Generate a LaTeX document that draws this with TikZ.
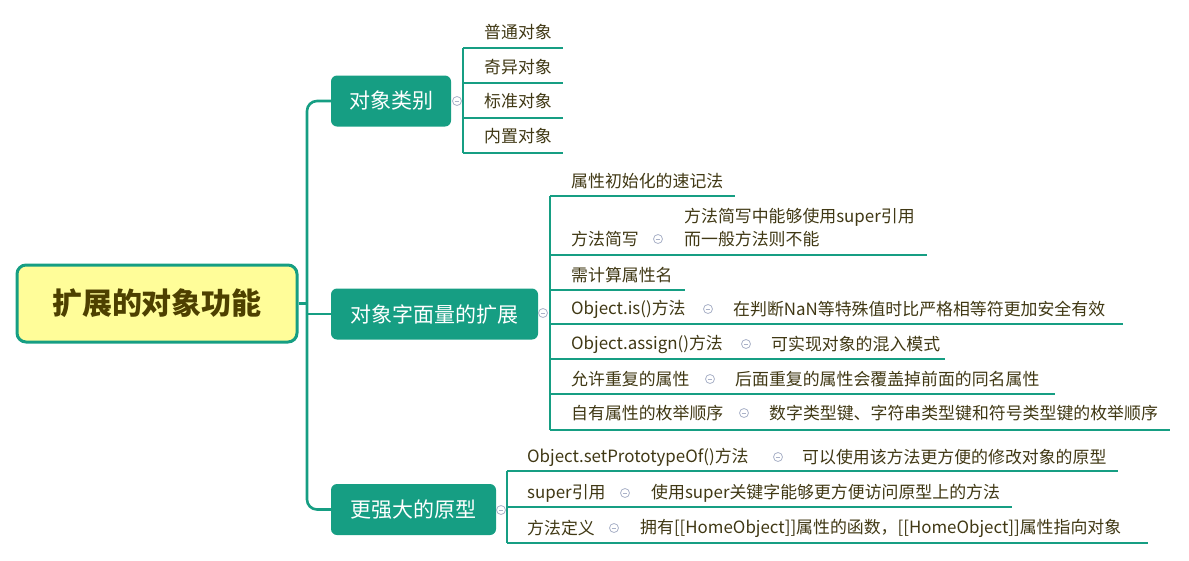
\documentclass[tikz,border=0pt]{standalone}
\usepackage{fontspec}
\setmainfont{Noto Sans CJK SC}
\definecolor{teal1}{RGB}{22,158,131}
\definecolor{rootfill}{RGB}{255,253,153}
\definecolor{roottext}{RGB}{77,64,0}
\definecolor{leaftext}{RGB}{64,56,20}
\definecolor{circ}{RGB}{170,178,200}
\tikzset{
  rootbox/.style={draw=teal1, line width=3pt, fill=rootfill, rounded corners=9pt, minimum width=280pt, minimum height=77pt, text=roottext, font=\fontsize{30}{33}\selectfont\bfseries, inner sep=0pt},
  branchbox/.style={fill=teal1, rounded corners=6pt, minimum height=51pt, text=white, font=\fontsize{21}{24}\selectfont, inner sep=0pt},
  leaf/.style={anchor=west, text=leaftext, font=\fontsize{16.9}{23}\selectfont, inner sep=0pt, align=left},
  trunk/.style={draw=teal1, line width=2.6pt, rounded corners=10pt},
  uline/.style={draw=teal1, line width=2.2pt},
  fold/.style={circle, draw=circ, line width=0.8pt, fill=white, minimum size=9pt, inner sep=0pt,
    path picture={\draw[circ, line width=0.8pt] ([xshift=-2.3pt]path picture bounding box.center) -- ([xshift=2.3pt]path picture bounding box.center);}}
}
\begin{document}
\begin{tikzpicture}[x=1pt,y=-1pt]
\useasboundingbox (0,0) rectangle (1189,560);
% root and branches
\node[rootbox] (root) at (157,303.5) {扩展的对象功能};
\node[branchbox, minimum width=120pt] (b1) at (391,101) {对象类别};
\node[branchbox, minimum width=207pt] (b2) at (434.5,314) {对象字面量的扩展};
\node[branchbox, minimum width=165pt] (b3) at (413.5,509.5) {更强大的原型};
\coordinate (tj) at (307,303.5);
\coordinate (tt) at (307,101);
\coordinate (tb) at (307,509.5);
\coordinate (tm) at (307,314);
\draw[trunk] (root.east) -- (tj);
\draw[trunk] (b1.west) -- (tt) -- (tb) -- (b3.west);
\draw[trunk] (tm) -- (b2.west);
% branch 1 leaves
\coordinate (v1t) at (463,48);
\coordinate (v1b) at (463,153);
\draw[uline] (v1t) -- (v1b);
\node[leaf] (a1) at (484,32) {普通对象};
\node[leaf] (a2) at (484,67) {奇异对象};
\node[leaf] (a3) at (484,101) {标准对象};
\node[leaf] (a4) at (484,136) {内置对象};
\coordinate (a1e) at (563,48);
\coordinate (a2s) at (463,83);  \coordinate (a2e) at (563,83);
\coordinate (a3s) at (463,118); \coordinate (a3e) at (563,118);
\coordinate (a4e) at (563,153);
\draw[uline] (v1t) -- (a1e);
\draw[uline] (a2s) -- (a2e);
\draw[uline] (a3s) -- (a3e);
\draw[uline] (v1b) -- (a4e);
\node[fold] (f1) at (457,101) {};
% branch 2 leaves
\coordinate (v2t) at (550,196);
\coordinate (v2b) at (550,430);
\draw[uline] (v2t) -- (v2b);
\node[leaf] (c1) at (571,181) {属性初始化的速记法};
\node[leaf] (c2) at (571,239) {方法简写};
\node[leaf] (c2d) at (684,227.5) {方法简写中能够使用super引用\\而一般方法则不能};
\node[leaf] (c3) at (571,275) {需计算属性名};
\node[leaf] (c4) at (571,309) {Object.is()方法};
\node[leaf] (c4d) at (733,309) {在判断NaN等特殊值时比严格相等符更加安全有效};
\node[leaf] (c5) at (571,344) {Object.assign()方法};
\node[leaf] (c5d) at (771,344) {可实现对象的混入模式};
\node[leaf] (c6) at (571,379) {允许重复的属性};
\node[leaf] (c6d) at (735,379) {后面重复的属性会覆盖掉前面的同名属性};
\node[leaf] (c7) at (571,413) {自有属性的枚举顺序};
\node[leaf] (c7d) at (769,413) {数字类型键、字符串类型键和符号类型键的枚举顺序};
\coordinate (c1e) at (735,196);
\coordinate (c2s) at (550,255); \coordinate (c2e) at (927,255);
\coordinate (c3s) at (550,290); \coordinate (c3e) at (685,290);
\coordinate (c4s) at (550,324); \coordinate (c4e) at (1123,324);
\coordinate (c5s) at (550,359); \coordinate (c5e) at (945,359);
\coordinate (c6s) at (550,394); \coordinate (c6e) at (1055,394);
\coordinate (c7e) at (1170,430);
\draw[uline] (v2t) -- (c1e);
\draw[uline] (c2s) -- (c2e);
\draw[uline] (c3s) -- (c3e);
\draw[uline] (c4s) -- (c4e);
\draw[uline] (c5s) -- (c5e);
\draw[uline] (c6s) -- (c6e);
\draw[uline] (v2b) -- (c7e);
\node[fold] (f2) at (543,313) {};
\node[fold] (g2) at (658,239) {};
\node[fold] (g4) at (708,309) {};
\node[fold] (g5) at (746,344) {};
\node[fold] (g6) at (710,379) {};
\node[fold] (g7) at (744,413) {};
% branch 3 leaves
\coordinate (v3t) at (507,471);
\coordinate (v3b) at (507,543);
\draw[uline] (v3t) -- (v3b);
\node[leaf] (d1) at (527,457) {Object.setPrototypeOf()方法};
\node[leaf] (d1d) at (802,457) {可以使用该方法更方便的修改对象的原型};
\node[leaf] (d2) at (527,493) {super引用};
\node[leaf] (d2d) at (651,493) {使用super关键字能够更方便访问原型上的方法};
\node[leaf] (d3) at (527,528) {方法定义};
\node[leaf] (d3d) at (640,528) {拥有[[HomeObject]]属性的函数，[[HomeObject]]属性指向对象};
\coordinate (d1e) at (1118,471);
\coordinate (d2s) at (507,507); \coordinate (d2e) at (1012,507);
\coordinate (d3e) at (1148,543);
\draw[uline] (v3t) -- (d1e);
\draw[uline] (d2s) -- (d2e);
\draw[uline] (v3b) -- (d3e);
\node[fold] (f3) at (501,510) {};
\node[fold] (h1) at (778,457) {};
\node[fold] (h2) at (625,493) {};
\node[fold] (h3) at (614,528) {};
\end{tikzpicture}
\end{document}
